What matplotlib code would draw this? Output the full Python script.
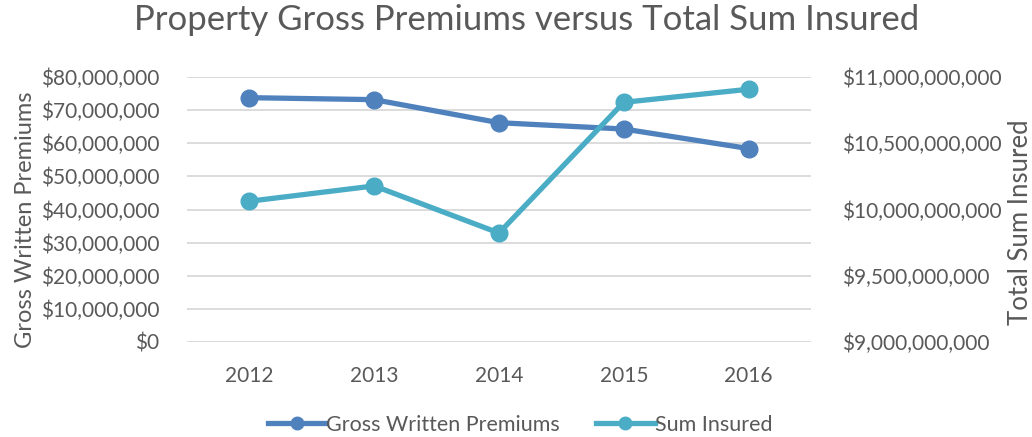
import matplotlib
matplotlib.use("Agg")
import matplotlib.pyplot as plt
from matplotlib.ticker import FuncFormatter

years = ["2012", "2013", "2014", "2015", "2016"]
gross_premiums = [73.76e6, 73.16e6, 66.2e6, 64.3e6, 58.4e6]
sum_insured = [10.0625e9, 10.178e9, 9.8225e9, 10.809e9, 10.9075e9]

FONT = ["Lato", "DejaVu Sans"]
TXT = "#595959"
C1 = "#4F81BD"
C2 = "#4BACC6"

plt.rcParams["font.family"] = FONT

fig = plt.figure(figsize=(10.32, 4.37), dpi=100)
ax = fig.add_axes([187/1032, (437-342)/437, 624/1032, 265/437])
ax2 = ax.twinx()

x = list(range(len(years)))
l1, = ax.plot(x, gross_premiums, color=C1, lw=3.8, marker="o", ms=12, zorder=3,
              label="Gross Written Premiums")
l2, = ax2.plot(x, sum_insured, color=C2, lw=3.8, marker="o", ms=12, zorder=3,
               label="Sum Insured")

ax.set_xlim(-0.5, len(years) - 0.5)
ax.set_ylim(0, 80e6)
ax.set_yticks([i * 10e6 for i in range(9)])
ax2.set_ylim(9e9, 11e9)
ax2.set_yticks([9e9, 9.5e9, 10e9, 10.5e9, 11e9])
ax.set_xticks(x)
ax.set_xticklabels(years)

fmt = FuncFormatter(lambda v, p: "${:,.0f}".format(v))
ax.yaxis.set_major_formatter(fmt)
ax2.yaxis.set_major_formatter(fmt)

ax.grid(axis="y", color="#D9D9D9", lw=1.3)
ax.set_axisbelow(True)
for a in (ax, ax2):
    for s in a.spines.values():
        s.set_visible(False)
    a.tick_params(length=0, labelsize=15, colors=TXT)
ax.tick_params(axis="y", pad=20)
ax2.tick_params(axis="y", pad=22)
ax.tick_params(axis="x", pad=17)

fig.text(26/1032, 1 - 220/437, "Gross Written Premiums", rotation=90,
         fontsize=17, color=TXT, ha="center", va="center")
fig.text(1021/1032, 1 - 222/437, "Total Sum Insured", rotation=90,
         fontsize=18.5, color=TXT, ha="center", va="center")

fig.suptitle("Property Gross Premiums versus Total Sum Insured", fontsize=25,
             color=TXT, x=527/1032, y=0.99)

leg = fig.legend(handles=[l1, l2], loc="center", bbox_to_anchor=(520/1032, 0.028),
                 ncol=2, frameon=False, fontsize=15.5, handlelength=2.7,
                 handletextpad=0.0, columnspacing=1.7, markerscale=0.75)
for t in leg.get_texts():
    t.set_color(TXT)

fig.savefig("out.png", dpi=100)
